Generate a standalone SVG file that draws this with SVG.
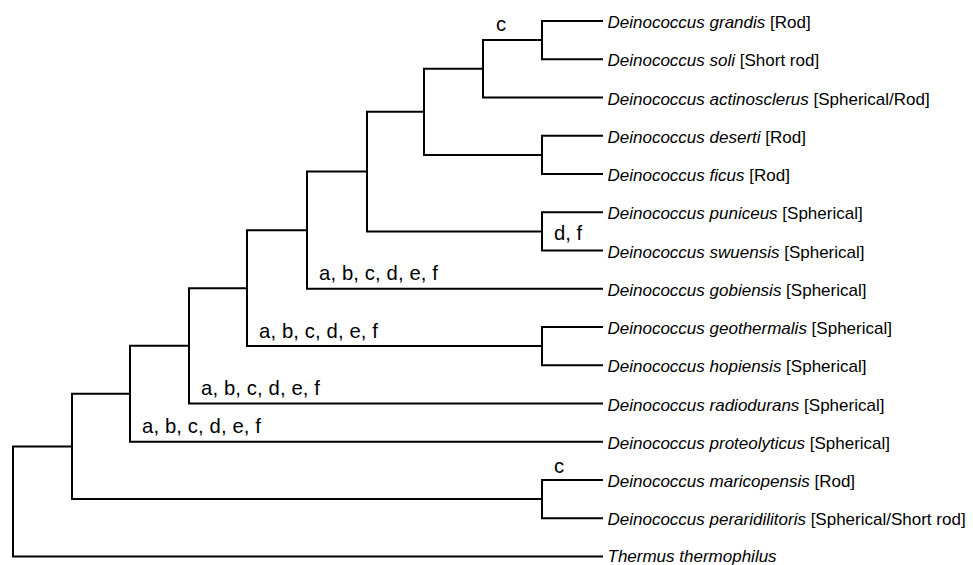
<svg xmlns="http://www.w3.org/2000/svg" width="973" height="565" viewBox="0 0 973 565">
<style>
  .edge { fill: none; stroke: #000; stroke-width: 2; stroke-linecap: square; }
  .leaf { font-family: "Liberation Sans", Arial, sans-serif; font-size: 17px; fill: #000; }
  .sp { font-style: italic; }
  .blab { font-family: "Liberation Sans", Arial, sans-serif; font-size: 20.3px; fill: #000; }
</style>
<rect width="973" height="565" fill="#fff"/>
<g id="connectors">
  <path class="edge" d="M542,21 V59.25 M542,21 H602 M542,59.25 H602"/>
  <path class="edge" d="M483,40.1 V97.5 M483,40.1 H542 M483,97.5 H602"/>
  <path class="edge" d="M542,135.75 V174 M542,135.75 H602 M542,174 H602"/>
  <path class="edge" d="M424,68.8 V154.9 M424,68.8 H483 M424,154.9 H542"/>
  <path class="edge" d="M542,212.25 V250.5 M542,212.25 H602 M542,250.5 H602"/>
  <path class="edge" d="M367,111.85 V231.4 M367,111.85 H424 M367,231.4 H542"/>
  <path class="edge" d="M307,171.6 V288.75 M307,171.6 H367 M307,288.75 H602"/>
  <path class="edge" d="M542,327 V365.25 M542,327 H602 M542,365.25 H602"/>
  <path class="edge" d="M247,230.2 V346.1 M247,230.2 H307 M247,346.1 H542"/>
  <path class="edge" d="M189,288.15 V403.5 M189,288.15 H247 M189,403.5 H602"/>
  <path class="edge" d="M130,345.8 V441.75 M130,345.8 H189 M130,441.75 H602"/>
  <path class="edge" d="M542,480 V518.25 M542,480 H602 M542,518.25 H602"/>
  <path class="edge" d="M72,393.8 V499.1 M72,393.8 H130 M72,499.1 H542"/>
  <path class="edge" d="M13,446.5 V556.5 M13,446.5 H72 M13,556.5 H602"/>
</g>
<g id="branch-labels">
  <text class="blab" x="496" y="31">c</text>
  <text class="blab" x="554" y="240">d, f</text>
  <text class="blab" x="319" y="280" textLength="119" lengthAdjust="spacing">a, b, c, d, e, f</text>
  <text class="blab" x="259" y="337.6" textLength="119" lengthAdjust="spacing">a, b, c, d, e, f</text>
  <text class="blab" x="201" y="395" textLength="119" lengthAdjust="spacing">a, b, c, d, e, f</text>
  <text class="blab" x="142" y="433.3" textLength="119" lengthAdjust="spacing">a, b, c, d, e, f</text>
  <text class="blab" x="554" y="473">c</text>
</g>
<g id="leaf-grandis"><text class="leaf" x="607.5" y="28"><tspan class="sp">Deinococcus grandis</tspan> [Rod]</text></g>
<g id="leaf-soli"><text class="leaf" x="607.5" y="66.25"><tspan class="sp">Deinococcus soli</tspan> [Short rod]</text></g>
<g id="leaf-actinosclerus"><text class="leaf" x="607.5" y="104.5"><tspan class="sp">Deinococcus actinosclerus</tspan> [Spherical/Rod]</text></g>
<g id="leaf-deserti"><text class="leaf" x="607.5" y="142.75"><tspan class="sp">Deinococcus deserti</tspan> [Rod]</text></g>
<g id="leaf-ficus"><text class="leaf" x="607.5" y="181"><tspan class="sp">Deinococcus ficus</tspan> [Rod]</text></g>
<g id="leaf-puniceus"><text class="leaf" x="607.5" y="219.25"><tspan class="sp">Deinococcus puniceus</tspan> [Spherical]</text></g>
<g id="leaf-swuensis"><text class="leaf" x="607.5" y="257.5"><tspan class="sp">Deinococcus swuensis</tspan> [Spherical]</text></g>
<g id="leaf-gobiensis"><text class="leaf" x="607.5" y="295.75"><tspan class="sp">Deinococcus gobiensis</tspan> [Spherical]</text></g>
<g id="leaf-geothermalis"><text class="leaf" x="607.5" y="334"><tspan class="sp">Deinococcus geothermalis</tspan> [Spherical]</text></g>
<g id="leaf-hopiensis"><text class="leaf" x="607.5" y="372.25"><tspan class="sp">Deinococcus hopiensis</tspan> [Spherical]</text></g>
<g id="leaf-radiodurans"><text class="leaf" x="607.5" y="410.5"><tspan class="sp">Deinococcus radiodurans</tspan> [Spherical]</text></g>
<g id="leaf-proteolyticus"><text class="leaf" x="607.5" y="448.75"><tspan class="sp">Deinococcus proteolyticus</tspan> [Spherical]</text></g>
<g id="leaf-maricopensis"><text class="leaf" x="607.5" y="487"><tspan class="sp">Deinococcus maricopensis</tspan> [Rod]</text></g>
<g id="leaf-peraridilitoris"><text class="leaf" x="607.5" y="525.25"><tspan class="sp">Deinococcus peraridilitoris</tspan> [Spherical/Short rod]</text></g>
<g id="leaf-thermophilus"><text class="leaf sp" x="607.5" y="561.5">Thermus thermophilus</text></g>
</svg>
